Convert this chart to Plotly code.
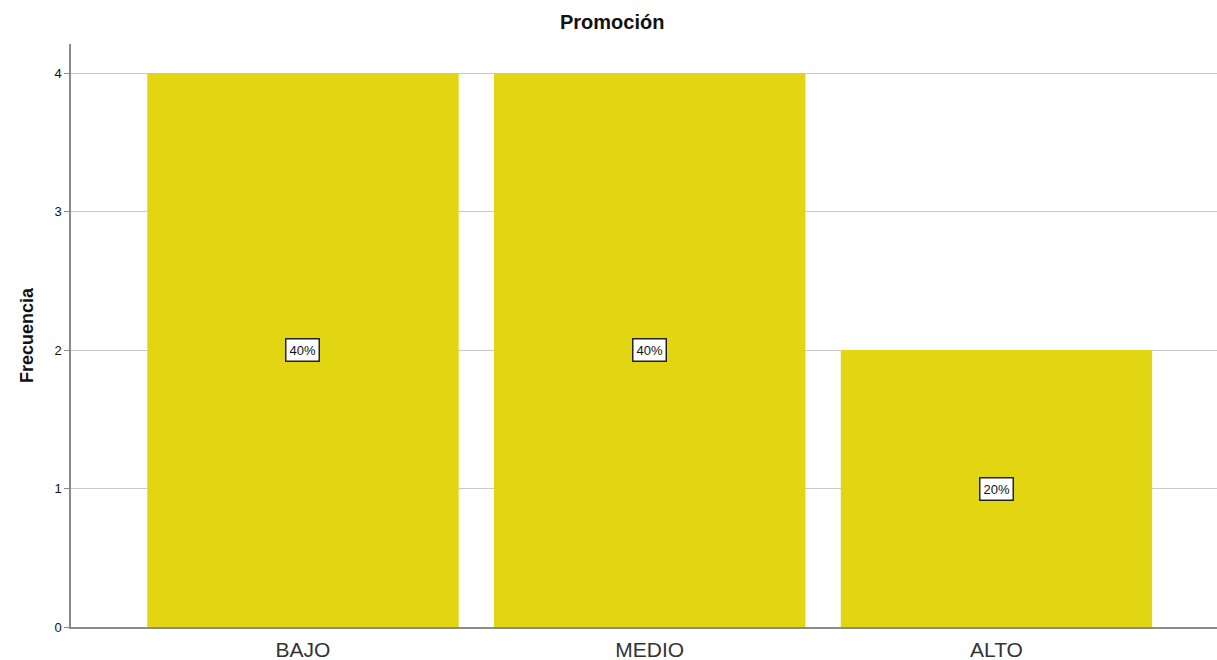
import plotly.graph_objects as go

categories = ["BAJO", "MEDIO", "ALTO"]
frequencies = [4, 4, 2]
percent_labels = ["40%", "40%", "20%"]
y_ticks = [0, 1, 2, 3, 4]

bar_color = "#e1d611"

fig = go.Figure()
fig.add_trace(go.Bar(
    x=categories, y=frequencies,
    marker=dict(color=bar_color, line=dict(width=0)),
    width=0.898, hoverinfo="skip",
))

for c, f, p in zip(categories, frequencies, percent_labels):
    fig.add_annotation(
        x=c, y=f / 2, text=p, showarrow=False,
        font=dict(family="Arial, Liberation Sans, sans-serif", size=13, color="#111111"),
        bgcolor="white", bordercolor="#222222", borderwidth=1.5, borderpad=3,
    )

fig.update_layout(
    width=1217, height=660,
    margin=dict(l=71, r=0, t=44, b=33, autoexpand=False),
    paper_bgcolor="white", plot_bgcolor="white",
    showlegend=False,
    title=dict(text="<b>Promoción</b>", x=0.503, xanchor="center", y=0.967, yanchor="middle",
               font=dict(family="Arial, Liberation Sans, sans-serif", size=20, color="#111111")),
    font=dict(family="Arial, Liberation Sans, sans-serif"),
)
fig.update_xaxes(
    range=[-0.669, 2.636],
    automargin=False,
    showgrid=False, showline=True, linecolor="#8a8a8a", linewidth=1.5,
    ticks="", ticklabelstandoff=3,
    tickfont=dict(size=21, color="#333333"),
    zeroline=False,
)
fig.update_yaxes(
    range=[0, 4.21],
    automargin=False,
    tickvals=y_ticks,
    showgrid=True, gridcolor="#c9c9c9", gridwidth=1,
    showline=True, linecolor="#8a8a8a", linewidth=1.5,
    ticks="outside", ticklen=5, tickcolor="#8a8a8a",
    tickfont=dict(size=13, color="#111111"),
    zeroline=False,
    title=dict(text="<b>Frecuencia</b>", standoff=16,
               font=dict(size=18, color="#111111")),
)

fig.write_html("out.html")
